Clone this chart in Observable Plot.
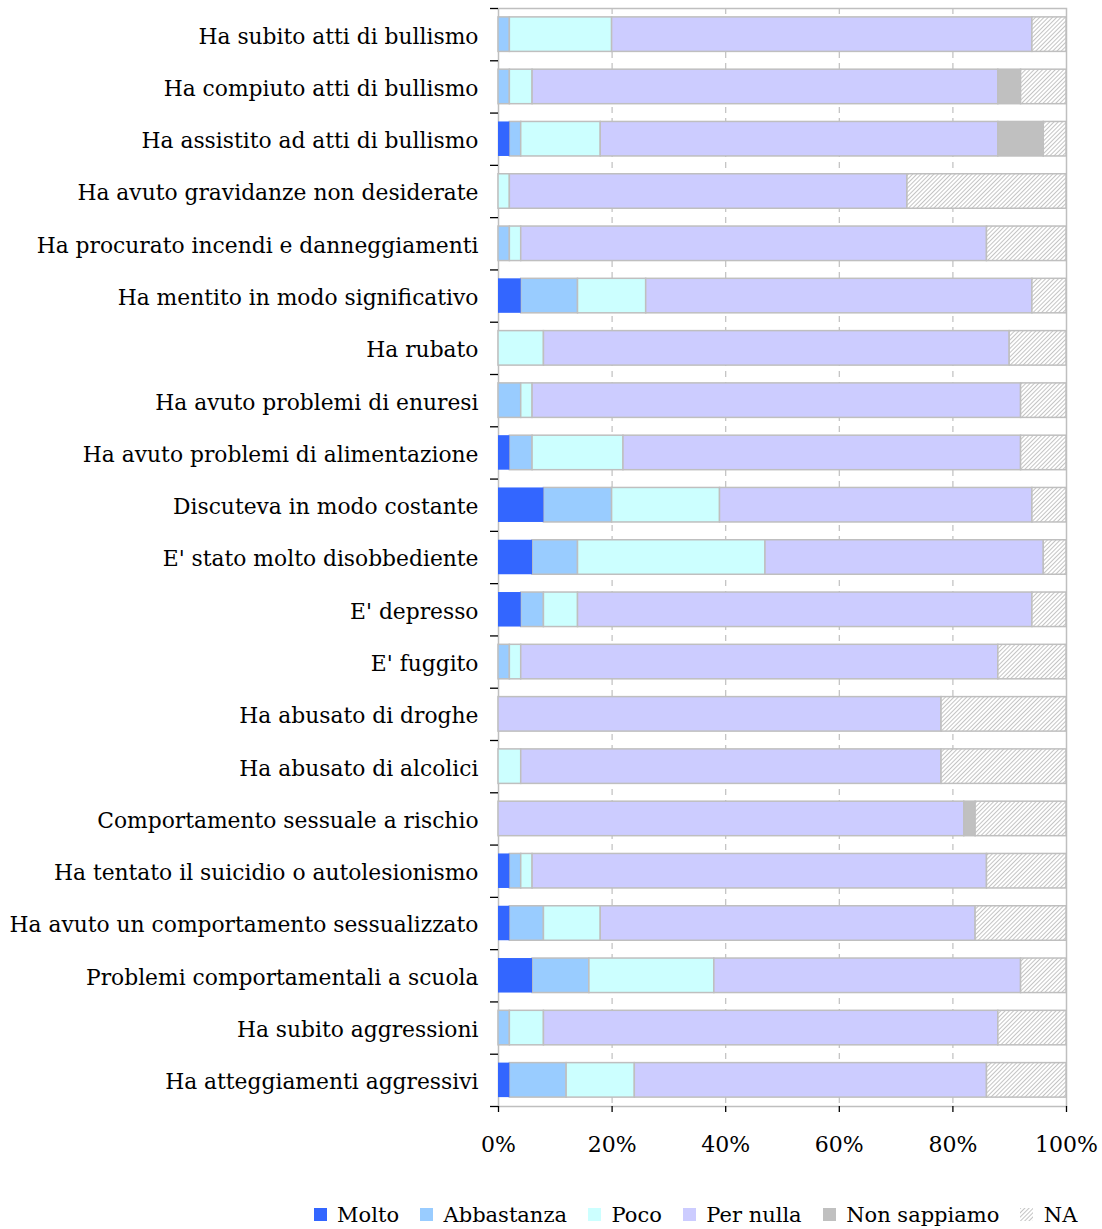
<!DOCTYPE html>
<html>
<head>
<meta charset="utf-8">
<script src="https://cdn.jsdelivr.net/npm/d3@7"></script>
<script src="https://cdn.jsdelivr.net/npm/@observablehq/plot@0.6"></script>
<style>
  html, body { margin: 0; padding: 0; background: #fff; overflow: hidden; }
  #chart { width: 1102px; }
  .legend-wrap { display: flex; justify-content: center; margin-top: 18px; padding-left: 310px; }
</style>
</head>
<body>
<div id="chart"></div>
<script>
const categories = [
  "Ha subito atti di bullismo",
  "Ha compiuto atti di bullismo",
  "Ha assistito ad atti di bullismo",
  "Ha avuto gravidanze non desiderate",
  "Ha procurato incendi e danneggiamenti",
  "Ha mentito in modo significativo",
  "Ha rubato",
  "Ha avuto problemi di enuresi",
  "Ha avuto problemi di alimentazione",
  "Discuteva in modo costante",
  "E' stato molto disobbediente",
  "E' depresso",
  "E' fuggito",
  "Ha abusato di droghe",
  "Ha abusato di alcolici",
  "Comportamento sessuale a rischio",
  "Ha tentato il suicidio o autolesionismo",
  "Ha avuto un comportamento sessualizzato",
  "Problemi comportamentali a scuola",
  "Ha subito aggressioni",
  "Ha atteggiamenti aggressivi"
];
const seriesNames = ["Molto", "Abbastanza", "Poco", "Per nulla", "Non sappiamo", "NA"];
const molto       = [0, 0, 2, 0, 0, 4, 0, 0, 2, 8, 6, 4, 0, 0, 0, 0, 2, 2, 6, 0, 2];
const abbastanza  = [2, 2, 2, 0, 2, 10, 0, 4, 4, 12, 8, 4, 2, 0, 0, 0, 2, 6, 10, 2, 10];
const poco        = [18, 4, 14, 2, 2, 12, 8, 2, 16, 19, 33, 6, 2, 0, 4, 0, 2, 10, 22, 6, 12];
const perNulla    = [74, 82, 70, 70, 82, 68, 82, 86, 70, 55, 49, 80, 84, 78, 74, 82, 80, 66, 54, 80, 62];
const nonSappiamo = [0, 4, 8, 0, 0, 0, 0, 0, 0, 0, 0, 0, 0, 0, 0, 2, 0, 0, 0, 0, 0];
const na          = [6, 8, 4, 28, 14, 6, 10, 8, 8, 6, 4, 6, 12, 22, 22, 16, 14, 16, 8, 12, 14];
const xTicks = [0, 20, 40, 60, 80, 100];
const colors = ["#3366FF", "#99CCFF", "#CCFFFF", "#CCCCFF", "#C0C0C0", "url(#na-hatch)"];

const seriesValues = [molto, abbastanza, poco, perNulla, nonSappiamo, na];
const rows = [];
categories.forEach((cat, i) => {
  let acc = 0;
  seriesNames.forEach((s, j) => {
    const v = seriesValues[j][i];
    if (v > 0) rows.push({cat, series: s, x1: acc, x2: acc + v});
    acc += v;
  });
});

const FONT = "'DejaVu Serif', 'Liberation Serif', serif";
const height = 1180, marginTop = 8, marginBottom = height - 1106;
const step = (height - marginTop - marginBottom) / categories.length;

const plot = Plot.plot({
  width: 1102,
  height,
  marginLeft: 498,
  marginRight: 36,
  marginTop,
  marginBottom,
  style: {fontFamily: FONT, fontSize: "22px", color: "#000", background: "#fff"},
  x: {domain: [0, 100]},
  y: {domain: categories, paddingInner: 0.34, paddingOuter: 0.17, round: false},
  color: {domain: seriesNames, range: colors},
  marks: [
    Plot.frame({stroke: "#BFBFBF", strokeWidth: 1.5}),
    Plot.ruleX([20, 40, 60, 80], {stroke: "#BFBFBF", strokeWidth: 1.2, strokeDasharray: "6,5"}),
    Plot.barX(rows, {filter: d => d.series !== "Molto", y: "cat", x1: "x1", x2: "x2", fill: "series", stroke: "#BFBFBF", strokeWidth: 1.5}),
    Plot.barX(rows, {filter: d => d.series === "Molto", y: "cat", x1: "x1", x2: "x2", fill: "series"}),
    Plot.axisX({ticks: xTicks, tickFormat: d => d + "%", tickSize: 6, tickPadding: 24, line: true, stroke: "#000", strokeWidth: 1.3, fontSize: 22, label: null}),
    Plot.axisY({tickSize: 0, tickPadding: 20, line: true, stroke: "#000", strokeWidth: 1.3, fontSize: 21.8, dy: 2, label: null}),
    Plot.axisY({tickSize: 8, tickFormat: () => "", dy: -step / 2, stroke: "#000", strokeWidth: 1.3, label: null}),
    Plot.axisY({ticks: [categories[categories.length - 1]], tickSize: 8, tickFormat: () => "", dy: step / 2, stroke: "#000", strokeWidth: 1.3, label: null})
  ]
});

// hatch pattern for NA
const ns = "http://www.w3.org/2000/svg";
const defs = document.createElementNS(ns, "defs");
defs.innerHTML = `<pattern id="na-hatch" patternUnits="userSpaceOnUse" width="3" height="3" patternTransform="rotate(45)">
  <rect width="3" height="3" fill="#ffffff"></rect>
  <line x1="0.5" y1="0" x2="0.5" y2="3" stroke="#C4C4C4" stroke-width="1"></line>
</pattern>`;
plot.insertBefore(defs, plot.firstChild);

const chart = document.getElementById("chart");
chart.appendChild(plot);

const legend = plot.legend("color", {
  swatchSize: 13,
  style: {fontFamily: FONT, fontSize: "21px", color: "#000"}
});
const wrap = document.createElement("div");
wrap.className = "legend-wrap";
wrap.appendChild(legend);
chart.appendChild(wrap);
</script>
</body>
</html>
